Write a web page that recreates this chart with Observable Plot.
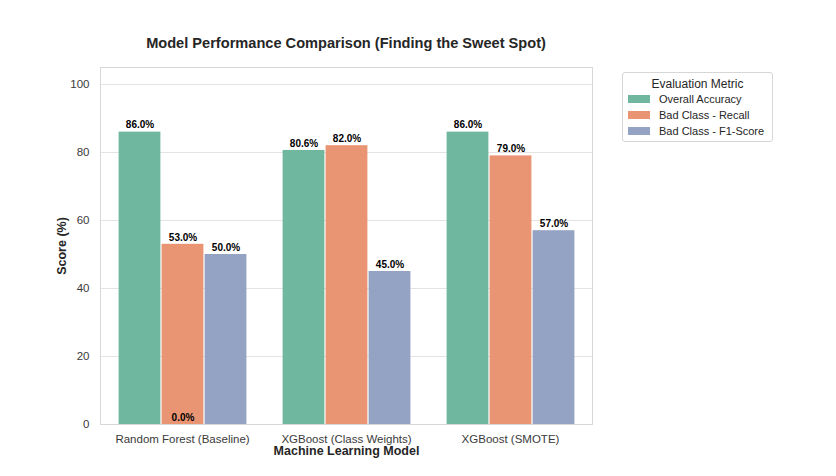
<!DOCTYPE html>
<html>
<head>
<meta charset="utf-8">
<script src="https://cdn.jsdelivr.net/npm/d3@7"></script>
<script src="https://cdn.jsdelivr.net/npm/@observablehq/plot@0.6"></script>
<style>
  body { margin: 0; background: #fff; font-family: "Liberation Sans", Arial, sans-serif; }
  #wrap { position: relative; width: 836px; height: 476px; }
  #title { position: absolute; left: 0; top: 33px; width: 692px; text-align: center; font-weight: bold; font-size: 14.6px; color: #262626; line-height: 20px; }
  #chart { position: absolute; left: 0; top: 59px; }
  #legend { position: absolute; left: 622px; top: 72px; width: 149px; height: 68px; border: 1px solid #d6d6d6; border-radius: 3px; background: #fff; font-size: 11px; color: #262626; }
  #legend .lt { text-align: center; font-size: 12px; margin-top: 4px; line-height: 14px; }
  #legend .it { position: relative; height: 16px; line-height: 16px; }
  #legend .sw { position: absolute; left: 5px; top: 4px; width: 22px; height: 8px; }
  #legend .tx { position: absolute; left: 36px; top: 0; white-space: nowrap; }
  g[aria-label="y-axis label"] text, g[aria-label="fx-axis label"] text { font-weight: bold; fill: #262626; font-size: 12.5px; }
</style>
</head>
<body>
<div id="wrap">
  <div id="title">Model Performance Comparison (Finding the Sweet Spot)</div>
  <div id="chart"></div>
  <div id="legend"></div>
</div>
<script>
const models = ["Random Forest (Baseline)", "XGBoost (Class Weights)", "XGBoost (SMOTE)"];
const metrics = ["Overall Accuracy", "Bad Class - Recall", "Bad Class - F1-Score"];
const accuracy = [86.0, 80.6, 86.0];
const recall = [53.0, 82.0, 79.0];
const f1Score = [50.0, 45.0, 57.0];
const yTicks = [0, 20, 40, 60, 80, 100];
const colors = ["#6fb89f", "#e99574", "#94a2c4"];
// stray annotation visible in the reference
const strayModels = ["Random Forest (Baseline)"];
const strayMetrics = ["Bad Class - Recall"];
const strayValues = [0.0];

const series = [accuracy, recall, f1Score];
const rows = models.flatMap((m, i) => metrics.map((k, j) => ({model: m, metric: k, value: series[j][i]})));
const stray = strayModels.map((m, i) => ({model: m, metric: strayMetrics[i], value: strayValues[i]}));
const labels = rows.concat(stray);

const chart = Plot.plot({
  width: 836,
  height: 405,
  marginTop: 8,
  marginLeft: 100,
  marginRight: 244,
  marginBottom: 40,
  style: {fontFamily: '"Liberation Sans", Arial, sans-serif', fontSize: "11.5px", color: "#3a3a3a"},
  fx: {domain: models, padding: 0},
  x: {domain: metrics, paddingInner: 0, paddingOuter: 0.375, axis: null},
  y: {domain: [0, 105]},
  color: {domain: metrics, range: colors},
  marks: [
    Plot.gridY({ticks: yTicks.filter(t => t > 0), stroke: "#e3e3e3", strokeOpacity: 1}),
    Plot.barY(rows, {fx: "model", x: "metric", y: "value", fill: "metric", insetLeft: 0.6, insetRight: 0.6}),
    Plot.text(labels, {fx: "model", x: "metric", y: "value", text: d => d.value.toFixed(1) + "%", dy: -7, fontWeight: "bold", fontSize: 10, fill: "#000"}),
    Plot.frame({facet: "super", stroke: "#d8d8d8", strokeOpacity: 1}),
    Plot.axisY({ticks: yTicks, tickSize: 0, tickPadding: 11, label: "Score (%)", labelAnchor: "center", labelArrow: "none", labelOffset: 43}),
    Plot.axisFx({anchor: "bottom", tickSize: 0, tickPadding: 10, label: "Machine Learning Model", labelAnchor: "center", labelArrow: "none", labelOffset: 30})
  ]
});
document.getElementById("chart").appendChild(chart);

const lg = document.getElementById("legend");
let html = '<div class="lt">Evaluation Metric</div>';
metrics.forEach((m, i) => {
  html += `<div class="it"><span class="sw" style="background:${colors[i]}"></span><span class="tx">${m}</span></div>`;
});
lg.innerHTML = html;
</script>
</body>
</html>
